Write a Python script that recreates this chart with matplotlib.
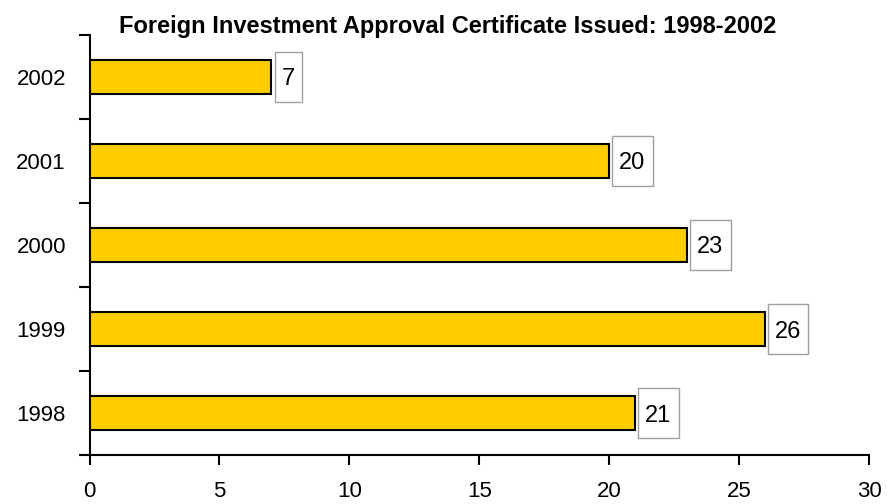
import matplotlib.pyplot as plt
from matplotlib.patches import Rectangle
from matplotlib.ticker import FixedLocator

plt.rcParams['font.family'] = ['Liberation Sans', 'DejaVu Sans']

years = ["1998", "1999", "2000", "2001", "2002"]
certificates = [21, 26, 23, 20, 7]
x_ticks = [0, 5, 10, 15, 20, 25, 30]

fig = plt.figure(figsize=(8.91, 5.04), dpi=100)
ax = fig.add_axes([0.1005, 0.0972, 0.8748, 0.8334])

pos = range(len(years))
ax.barh(pos, certificates, height=0.41, color="#FFCC00",
        edgecolor="black", linewidth=1.5, zorder=3)

# value labels in thin grey boxes just past the bar ends
for y, v in zip(pos, certificates):
    txt = str(v)
    w = 0.5 * len(txt) + 0.55
    x0 = v + 0.12
    ax.add_patch(Rectangle((x0, y - 0.295), w, 0.59, facecolor="white",
                           edgecolor="#A0A0A0", linewidth=1.0, zorder=4,
                           clip_on=False))
    ax.text(x0 + w / 2, y, txt, ha="center", va="center_baseline",
            fontsize=17, zorder=5)

ax.set_xlim(0, 30)
ax.set_ylim(-0.5, len(years) - 0.5)
ax.set_xticks(x_ticks)
ax.set_yticks(list(pos))
ax.set_yticklabels(years)
ax.yaxis.set_minor_locator(FixedLocator([i - 0.5 for i in range(len(years) + 1)]))

ax.tick_params(axis="x", direction="out", length=7, width=1.5, pad=12,
               labelsize=16)
ax.tick_params(axis="y", which="major", length=0, pad=17, labelsize=16)
ax.tick_params(axis="y", which="minor", direction="out", length=8, width=1.5)

for side in ("top", "right"):
    ax.spines[side].set_visible(False)
for side in ("left", "bottom"):
    ax.spines[side].set_linewidth(1.5)

fig.text(0.5025, 0.9345, "Foreign Investment Approval Certificate Issued: 1998-2002",
         ha="center", va="baseline", fontsize=17, fontweight="bold")

fig.savefig("out.png", dpi=100)
